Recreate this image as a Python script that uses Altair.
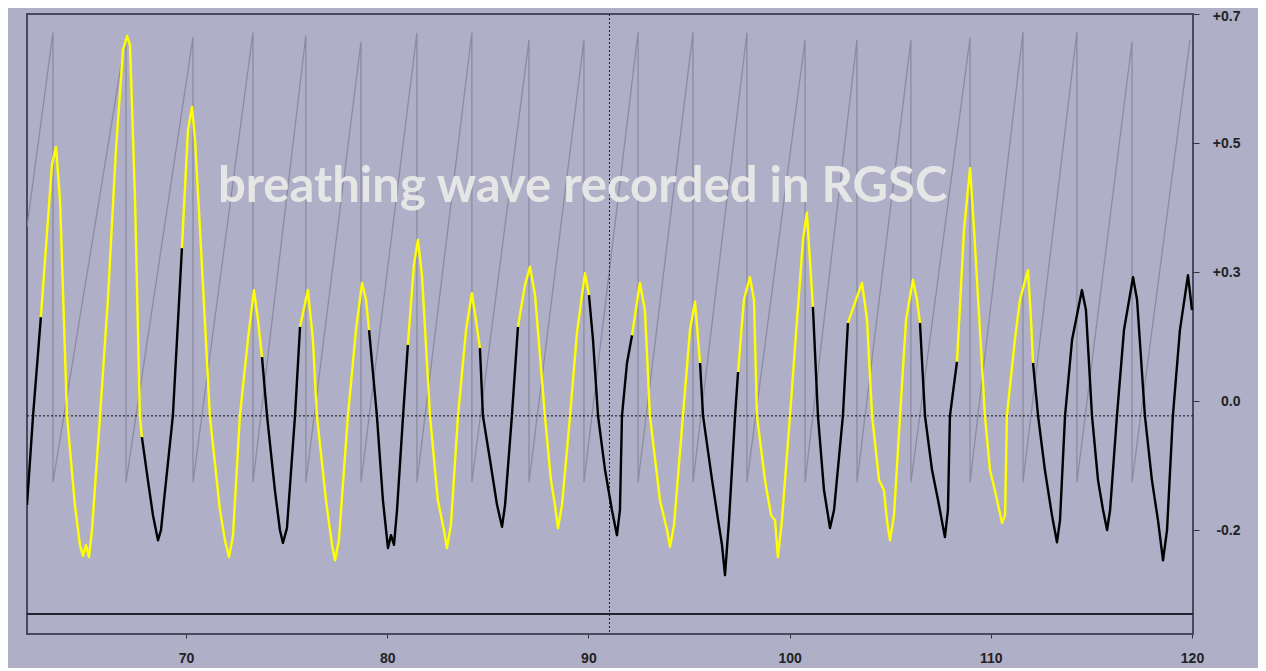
import altair as alt
import pandas as pd

# ---------------- data ----------------
# breathing wave (time in s, value in axis units)
wave_t = [62.10, 62.40, 62.79, 63.34, 63.54, 63.74, 64.09, 64.48, 64.73, 64.88, 65.03, 65.18, 65.33, 65.73, 66.12,
          66.52, 66.87, 67.07, 67.22, 67.47, 67.71, 67.81, 68.11, 68.36, 68.61, 68.76, 68.91, 69.35, 69.80, 70.10,
          70.30, 70.45, 70.70, 71.19, 71.69, 71.94, 72.14, 72.34, 72.68, 73.08, 73.38, 73.58, 73.78, 74.03, 74.42,
          74.67, 74.82, 75.02, 75.42, 75.67, 76.06, 76.31, 76.51, 76.96, 77.26, 77.41, 77.60, 78.05, 78.45, 78.75,
          78.95, 79.10, 79.49, 79.79, 80.04, 80.19, 80.34, 80.49, 80.79, 81.03, 81.33, 81.53, 81.73, 82.13, 82.52,
          82.82, 82.97, 83.17, 83.52, 83.92, 84.21, 84.41, 84.61, 84.76, 85.11, 85.46, 85.71, 85.86, 86.20, 86.50,
          86.85, 87.10, 87.35, 87.84, 88.14, 88.34, 88.49, 88.69, 89.09, 89.43, 89.83, 90.03, 90.23, 90.48, 90.83,
          91.17, 91.42, 91.57, 91.67, 91.92, 92.17, 92.56, 92.81, 93.06, 93.56, 93.91, 94.06, 94.26, 94.70, 95.05,
          95.30, 95.55, 95.70, 96.15, 96.45, 96.64, 96.79, 96.99, 97.29, 97.44, 97.73, 98.03, 98.23, 98.38, 98.78,
          99.08, 99.28, 99.42, 99.62, 100.02, 100.37, 100.67, 100.86, 101.01, 101.16, 101.41, 101.71, 102.01, 102.21,
          102.65, 102.90, 103.30, 103.60, 103.85, 104.10, 104.45, 104.69, 104.84, 104.99, 105.19, 105.49, 105.79,
          106.13, 106.33, 106.48, 106.73, 107.08, 107.38, 107.72, 107.87, 107.97, 108.32, 108.67, 108.97, 109.17,
          109.71, 109.96, 110.20, 110.56, 110.71, 110.80, 111.20, 111.45, 111.85, 112.00, 112.10, 112.35, 112.69,
          113.04, 113.29, 113.44, 113.69, 114.04, 114.53, 114.73, 115.03, 115.33, 115.58, 115.78, 115.93, 116.27,
          116.62, 117.07, 117.27, 117.66, 118.01, 118.31, 118.56, 118.76, 119.05, 119.40, 119.80, 120.00]
wave_v = [-0.061, 0.077, 0.230, 0.466, 0.494, 0.412, 0.077, -0.061, -0.123, -0.140, -0.123, -0.142, -0.100, 0.077, 0.257,
          0.489, 0.644, 0.666, 0.652, 0.412, 0.077, 0.044, -0.023, -0.077, -0.116, -0.100, -0.054, 0.077, 0.337, 0.520,
          0.556, 0.505, 0.365, 0.077, -0.069, -0.116, -0.142, -0.108, 0.077, 0.195, 0.272, 0.226, 0.168, 0.077, -0.038,
          -0.100, -0.120, -0.097, 0.077, 0.215, 0.272, 0.195, 0.077, -0.054, -0.123, -0.147, -0.116, 0.077, 0.210, 0.283,
          0.257, 0.210, 0.077, -0.054, -0.128, -0.108, -0.123, -0.069, 0.077, 0.187, 0.311, 0.350, 0.295, 0.077, -0.054,
          -0.100, -0.128, -0.092, 0.077, 0.210, 0.267, 0.226, 0.182, 0.077, 0.009, -0.061, -0.095, -0.061, 0.077, 0.215,
          0.280, 0.308, 0.264, 0.077, -0.023, -0.061, -0.097, -0.061, 0.077, 0.205, 0.298, 0.264, 0.195, 0.077, -0.007,
          -0.069, -0.108, -0.069, 0.077, 0.159, 0.202, 0.283, 0.241, 0.077, -0.054, -0.100, -0.126, -0.092, 0.077, 0.210,
          0.254, 0.159, 0.077, -0.023, -0.085, -0.123, -0.170, -0.085, 0.077, 0.145, 0.257, 0.292, 0.257, 0.077, -0.023,
          -0.077, -0.085, -0.142, -0.085, 0.077, 0.226, 0.350, 0.392, 0.319, 0.246, 0.077, -0.038, -0.097, -0.069,
          0.077, 0.221, 0.257, 0.283, 0.226, 0.077, -0.023, -0.038, -0.085, -0.116, -0.077, 0.077, 0.226,
          0.288, 0.257, 0.221, 0.077, -0.007, -0.054, -0.111, -0.069, 0.077, 0.161, 0.365, 0.461, 0.365,
          0.077, -0.007, -0.038, -0.089, -0.077, 0.077, 0.195, 0.257, 0.303, 0.226, 0.159, 0.077, -0.007,
          -0.077, -0.119, -0.085, 0.077, 0.195, 0.272, 0.241, 0.077, -0.023, -0.069, -0.100, -0.069, 0.077,
          0.210, 0.292, 0.257, 0.077, -0.023, -0.085, -0.147, -0.100, 0.077, 0.210, 0.295, 0.241]
# times at which the trace switches between black and yellow (starts black)
colour_change_t = [62.79, 67.81, 69.80, 73.78, 75.67, 79.10, 81.03, 84.61, 86.50, 90.03,
                   92.17, 95.55, 97.44, 101.16, 102.90, 106.48, 108.32, 112.10]
trace_colours = ["black", "yellow"]

# grey sawtooth (phase ramp): start point, then top of each tooth where it drops to the floor
saw_start_t, saw_start_v = 62.10, 0.370
saw_drop_t = [63.39, 67.02, 70.35, 73.33, 75.96, 78.70, 81.48, 84.21, 87.05, 89.78, 92.47,
              95.20, 97.88, 100.77, 103.35, 106.03, 108.97, 111.60, 114.28, 117.02, 119.90]
saw_top_v = [0.671, 0.667, 0.664, 0.671, 0.667, 0.657, 0.671, 0.671, 0.660, 0.660, 0.672,
             0.672, 0.671, 0.660, 0.660, 0.660, 0.663, 0.672, 0.672, 0.657, 0.660]
saw_floor_v = -0.026

zero_line_v = 0.077        # dotted baseline
cursor_t = 91.05           # dotted cursor
floor_line_v = -0.230      # solid line near bottom

x_tick_values = [70, 80, 90, 100, 110, 120]
y_tick_values = [0.7, 0.5, 0.3, 0.1, -0.1]
y_tick_labels = ["+0.7", "+0.5", "+0.3", "0.0", "-0.2"]
x_domain = [62.10, 120.05]
y_domain = [-0.2612, 0.7]

title_text = "breathing wave recorded in RGSC"
title_t, title_v = 71.59, 0.4085

# ---------------- tables ----------------
rows = []
seg = 0
for i, (t, v) in enumerate(zip(wave_t, wave_v)):
    rows.append(dict(t=t, v=v, seg=seg, colour=trace_colours[seg % 2], i=i))
    if t in colour_change_t:
        seg += 1
        rows.append(dict(t=t, v=v, seg=seg, colour=trace_colours[seg % 2], i=i))
wave_df = pd.DataFrame(rows)

saw_rows = [dict(t=saw_start_t, v=saw_start_v, i=0)]
k = 1
for n, (t, top) in enumerate(zip(saw_drop_t, saw_top_v)):
    saw_rows.append(dict(t=t, v=top, i=k)); k += 1
    if n < len(saw_drop_t) - 1:
        saw_rows.append(dict(t=t, v=saw_floor_v, i=k)); k += 1
saw_df = pd.DataFrame(saw_rows)

# ---------------- encodings ----------------
label_expr = " : ".join(
    f"abs(datum.value - ({val})) < 0.001 ? '{lab}'" for val, lab in zip(y_tick_values, y_tick_labels)
) + " : ''"

x_scale = alt.Scale(domain=x_domain, nice=False, zero=False)
y_scale = alt.Scale(domain=y_domain, nice=False, zero=False)
x_axis = alt.Axis(values=x_tick_values, title=None, grid=False, domain=False, tickSize=4,
                  tickColor="#333344", labelFont="Liberation Sans", labelFontWeight="bold",
                  labelFontSize=14, labelColor="#222222", labelPadding=13, labelFlush=False)
y_axis = alt.Axis(values=y_tick_values, orient="right", title=None, grid=False, domain=False,
                  tickSize=6, tickColor="#333344", labelExpr=label_expr, labelAlign="right",
                  labelBaseline="middle", labelFont="Liberation Sans", labelFontWeight="bold",
                  labelFontSize=14, labelColor="#222222", labelPadding=41,
                  labelOffset={"condition": {"test": "datum.value > 0.6", "value": 2}, "value": 0})

X = alt.X("t:Q", scale=x_scale, axis=x_axis)
Y = alt.Y("v:Q", scale=y_scale, axis=y_axis)

saw = alt.Chart(saw_df).mark_line(color="#85859a", strokeWidth=1.3, opacity=0.85, clip=True).encode(
    x=X, y=Y, order="i:Q")

zero_rule = alt.Chart(pd.DataFrame({"v": [zero_line_v]})).mark_rule(
    color="#111111", strokeWidth=1, strokeDash=[2, 2]).encode(y=Y)
cursor_rule = alt.Chart(pd.DataFrame({"t": [cursor_t]})).mark_rule(
    color="#222233", strokeWidth=1, strokeDash=[2, 2]).encode(x=X)
floor_rule = alt.Chart(pd.DataFrame({"v": [floor_line_v]})).mark_rule(
    color="#222233", strokeWidth=2).encode(y=Y)

wave = alt.Chart(wave_df).mark_line(strokeWidth=2.4, clip=True, strokeJoin="round").encode(
    x=X, y=Y,
    color=alt.Color("colour:N", scale=alt.Scale(domain=trace_colours, range=["#000000", "#ffff00"]), legend=None),
    detail="seg:N",
    order="i:Q",
)

title = alt.Chart(pd.DataFrame({"t": [title_t], "v": [title_v], "label": [title_text]})).mark_text(
    align="left", baseline="alphabetic", font="Lato", fontWeight="bold", fontSize=49, color="#e6e6e6"
).encode(x=X, y=Y, text="label:N")

chart = alt.layer(saw, zero_rule, cursor_rule, floor_rule, wave, title).properties(
    width=1166, height=620,
    padding={"left": 19, "top": 6, "right": 65, "bottom": 34},
    autosize=alt.AutoSizeParams(type="none"),
    background="#afafc8",
).configure_view(fill="#afafc8", stroke="#4a4a5e", strokeWidth=2)

chart.save("out.html", embed_options={"renderer": "svg", "actions": False})
